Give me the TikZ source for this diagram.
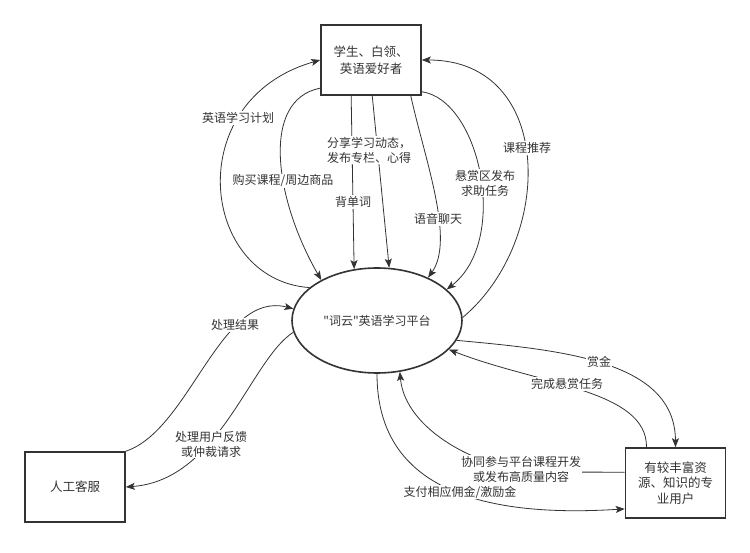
\documentclass[tikz,border=0pt]{standalone}
\usepackage{fontspec}
\newfontfamily\cjk{Noto Sans CJK SC}
\usetikzlibrary{arrows.meta,calc,shapes.geometric}

\tikzset{
  box/.style={draw=black!80, line width=1.6pt, minimum width=100pt, minimum height=70pt,
    align=center, inner sep=2pt, text=black!80, font=\cjk\fontsize{12.5}{17}\selectfont},
  lbl/.style={fill=white, inner sep=1pt, align=center, text=black!80,
    font=\cjk\fontsize{12}{15}\selectfont},
  flow/.style={draw=black!80, line width=0.8pt, -{Stealth[length=9pt,width=7pt,inset=2pt]}}
}

\begin{document}
\begin{tikzpicture}[x=1pt,y=-1pt]
\path[use as bounding box] (0,0) rectangle (750,553);

\node[box] (user) at (371,60) {学生、白领、\\英语爱好者};
\node[ellipse, draw=black!80, line width=1.6pt, minimum width=170pt, minimum height=105pt,
  text=black!80, font=\cjk\fontsize{12}{15}\selectfont] (plat) at (377,320.5) {"词云"英语学习平台};
\node[box] (staff) at (75,487) {人工客服};
\node[box, font=\cjk\fontsize{12.5}{15.5}\selectfont] (pro) at (675.5,483) {有较丰富资\\源、知识的专\\业用户};

\coordinate (bend) at (540,472);

\draw[flow] (plat.154) .. controls (200,280) and (180,100) .. (user.west);
\draw[flow] (user.209) .. controls (260,100) and (275,200) .. (plat.144);
\draw[flow] (user.241) -- (plat.114);
\draw[flow] (user.272) -- (plat.77);
\draw[flow] (user.318) .. controls (425,160) and (455,240) .. (plat.40);
\draw[flow] (user.328) .. controls (480,100) and (510,240) .. (plat.24);
\draw[flow] (plat.2) .. controls (555,240) and (555,60) .. (user.east);
\draw[flow] (staff.north east) .. controls (190,430) and (220,290) .. (plat.172);
\draw[flow] (plat.188) .. controls (250,360) and (220,480) .. (staff.east);
\draw[flow] (plat.-14) .. controls (560,350) and (675,360) .. (pro.north);
\draw[flow] (pro.129) .. controls (647,390) and (540,385) .. (plat.-22);
\draw[flow] (pro.168) -- (bend) .. controls (480,470) and (405,430) .. (plat.-66);
\draw[flow] (plat.south) .. controls (377,470) and (450,520) .. (pro.207);

\node[lbl] (plan) at (238,118) {英语学习计划};
\node[lbl] (buy) at (283,181) {购买课程/周边商品};
\node[lbl] (words) at (353,202) {背单词};
\node[lbl] (share) at (369,150) {分享学习动态，\\发布专栏、心得};
\node[lbl] (voice) at (438,219) {语音聊天};
\node[lbl] (reward) at (485,183) {悬赏区发布\\求助任务};
\node[lbl] (recom) at (527,148) {课程推荐};
\node[lbl] (result) at (235,325) {处理结果};
\node[lbl] (feedback) at (211,444) {处理用户反馈\\或仲裁请求};
\node[lbl] (bounty) at (599,362) {赏金};
\node[lbl] (finish) at (567,384) {完成悬赏任务};
\node[lbl] (coop) at (521,469) {协同参与平台课程开发\\或发布高质量内容};
\node[lbl] (pay) at (460,492) {支付相应佣金/激励金};
\end{tikzpicture}
\end{document}
